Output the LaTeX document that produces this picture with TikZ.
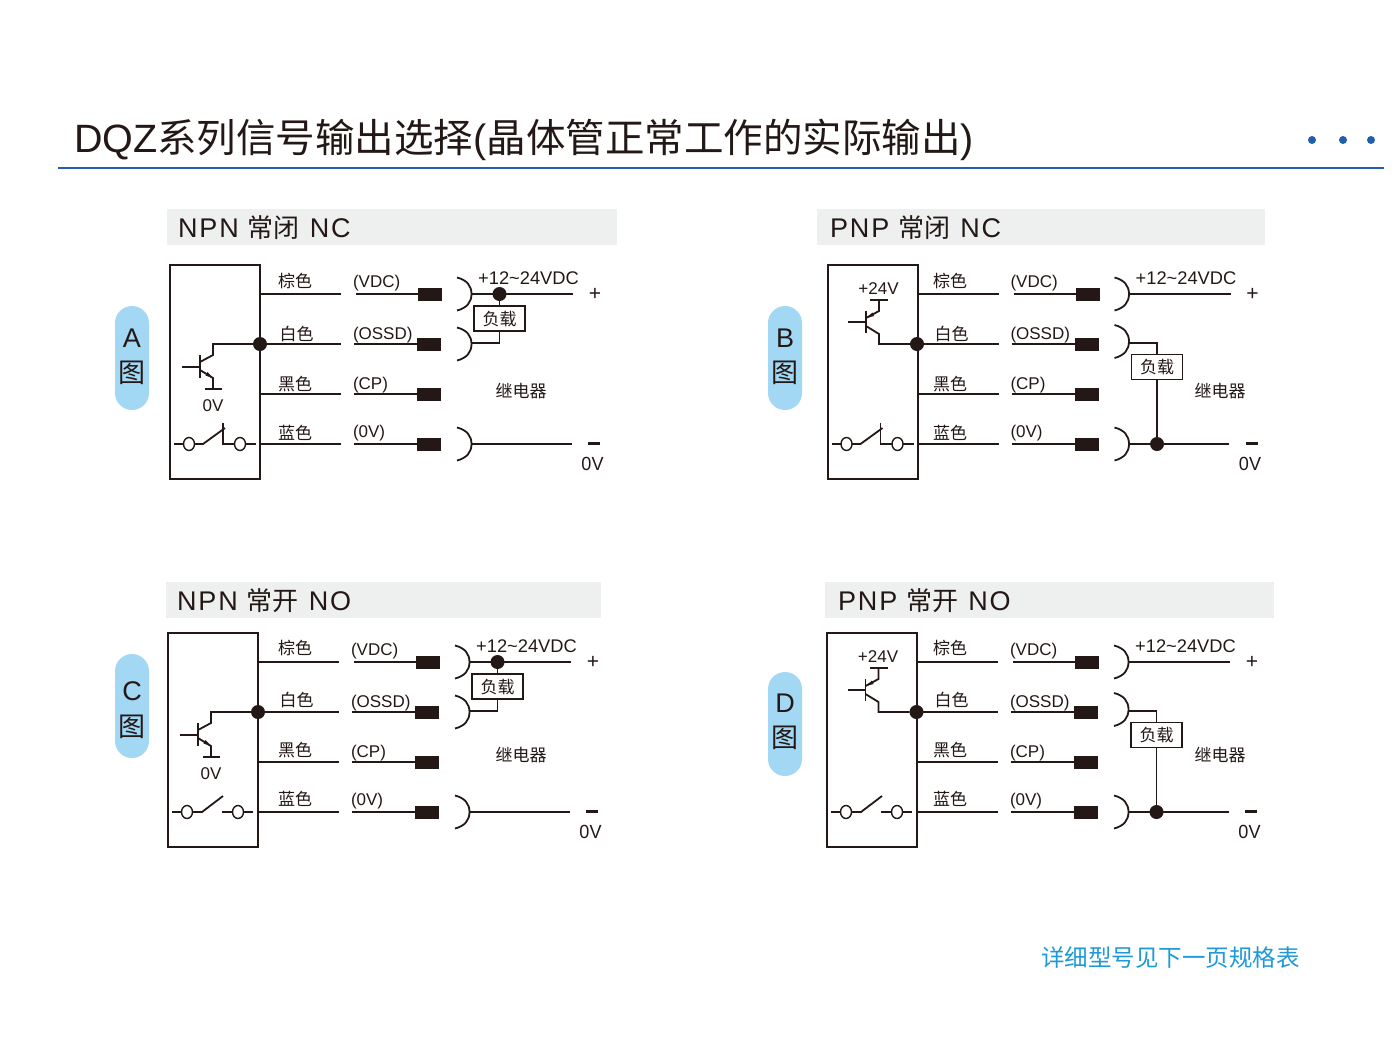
\documentclass[tikz,border=0pt]{standalone}
\usepackage{fontspec}
\setmainfont{Liberation Sans}
\newfontfamily\cjk{Noto Sans CJK SC}
\newfontfamily\latsp[LetterSpace=7]{Liberation Sans}
\usetikzlibrary{shapes.geometric}
\definecolor{ink}{HTML}{231815}
\definecolor{pill}{HTML}{A3D8F5}
\definecolor{hdr}{HTML}{EEF0EF}
\definecolor{rule}{HTML}{1F5FAE}
\definecolor{foot}{HTML}{1E9AD6}
\newcommand\fs[1]{\fontsize{#1}{#1}\selectfont}
\newcommand\loadtext{\raisebox{-6.5pt}[0pt][0pt]{负载}}
\tikzset{
  wire/.style={draw=ink,line width=1.8pt},
  txt/.style={text=ink,inner sep=0pt,outer sep=0pt,font=\fs{17}},
  cjktxt/.style={text=ink,inner sep=0pt,outer sep=0pt,font=\cjk\fs{17}},
  pin/.style={fill=ink,draw=none,minimum width=24pt,minimum height=13pt,inner sep=0pt,outer sep=0pt},
  dotn/.style={circle,fill=ink,draw=none,minimum size=14pt,inner sep=0pt,outer sep=0pt},
  loadbox/.style={draw=ink,fill=white,line width=1.2pt,minimum width=51pt,minimum height=25pt,inner sep=0pt,outer sep=0pt,text=ink,font=\cjk\fs{17}},
  bodybox/.style={draw=ink,line width=2pt,minimum width=90pt,minimum height=214pt,inner sep=0pt,outer sep=0pt},
  term/.style={ellipse,draw=ink,fill=white,line width=1.4pt,minimum width=11pt,minimum height=13pt,inner sep=0pt,outer sep=0pt},
  pilln/.style={fill=pill,draw=none,rounded corners=17pt,minimum width=34pt,minimum height=104pt,inner sep=0pt,outer sep=0pt},
  hdrn/.style={fill=hdr,draw=none,minimum height=36pt,inner sep=0pt,outer sep=0pt},
  hdrt/.style={text=ink,inner sep=0pt,outer sep=0pt,font=\fs{27},anchor=west},
  bluedot/.style={circle,fill=rule,draw=none,minimum size=8pt,inner sep=0pt,outer sep=0pt}
}
\newcommand\hdrtext[3]{{\latsp #1}\hspace{9pt}{\cjk\fs{26}#2}\hspace{10pt}{\latsp #3}}
% #1 prefix, #2 dx, #3 dy, #4 colour label dx, #5 colour label dy, #6 centre of second socket
\newcommand\panelbase[6]{%
\begin{scope}[shift={(#2,#3)}]
  \node[bodybox] (#1box) at (215,372) {};
  \foreach \n/\y/\txt/\pinx/\xs/\ty in {1/294/(VDC)/430/356/283.5,2/344/(OSSD)/429/354/335.5,3/394/(CP)/429/354/385.5,4/444/(0V)/429/354/433.5}{
    \coordinate (#1a\n) at (#1box.east |- 0,\y);
    \coordinate (#1b\n) at (341,\y);
    \coordinate (#1c\n) at (\xs,\y);
    \node[pin] (#1p\n) at (\pinx,\y) {};
    \draw[wire] (#1a\n) -- (#1b\n);
    \draw[wire] (#1c\n) -- (#1p\n.west);
    \node[txt,anchor=west] (#1t\n) at (353,\ty) {\txt};
  }
  \node[cjktxt] (#1cl1) at (295+#4,281.5+#5) {棕色};
  \node[cjktxt] (#1cl2) at (296.5+#4,333.5+#5) {白色};
  \node[cjktxt] (#1cl3) at (295+#4,384.5+#5) {黑色};
  \node[cjktxt] (#1cl4) at (295+#4,432.5+#5) {蓝色};
  \foreach \n/\y in {1/294,2/#6,4/444}{
    \coordinate (#1s\n) at (471.5,\y);
    \draw[wire] (457,\y-16.5) .. controls (467,\y-14) and (471.5,\y-8) .. (#1s\n) .. controls (471.5,\y+8) and (467,\y+14) .. (457,\y+16.5);
  }
  \coordinate (#1e1) at (573,294);
  \coordinate (#1e4) at (571.5,444);
  \draw[wire] (#1s1) -- (#1e1);
  \draw[wire] (#1s4) -- (#1e4);
  \node[txt,font=\fs{21}] (#1plus) at (595,294) {+};
  \coordinate (#1mL) at (588,443.5);
  \coordinate (#1mR) at (600,443.5);
  \draw[wire,line width=2.4pt] (#1mL) -- (#1mR);
  \node[txt,font=\fs{19}] (#1zero) at (592.5,464) {\scalebox{.95}[1]{0V}};
  \node[txt,font=\fs{18.3}] (#1volt) at (528.5,278) {+12\textasciitilde 24VDC};
\end{scope}}
\newcommand\npn[3]{%
\begin{scope}[shift={(#2,#3)}]
  \node[dotn] (#1dot) at (260,344) {};
  \coordinate (#1bs) at (182,367);
  \coordinate (#1bb) at (200,367);
  \coordinate (#1bt) at (200,355);
  \coordinate (#1bu) at (200,378);
  \coordinate (#1cc) at (213,355);
  \coordinate (#1cj) at (213,344);
  \coordinate (#1ee) at (213,378);
  \coordinate (#1eg) at (213,389);
  \coordinate (#1gl) at (205,389);
  \coordinate (#1gr) at (222,389);
  \draw[wire] (#1bs) -- (#1bb);
  \draw[wire,line width=1.9pt] (#1bt) -- (#1bu);
  \draw[wire] (200,362) -- (#1cc) -- (#1cj) -- (#1dot);
  \draw[wire] (200,370) -- (#1ee) -- (#1eg);
  \draw[wire] (#1gl) -- (#1gr);
  \fill[ink] (#1ee) -- (205.5,375.5) -- (207.5,372) -- cycle;
  \node[txt,font=\fs{17}] (#1ov) at (213,405.5) {0V};
  \node[dotn] (#1jn) at (499.5,294) {};
  \node[loadbox] (#1load) at (499.5,318.5) {\loadtext};
  \coordinate (#1k) at (499.5,343);
  \draw[wire] (#1jn) -- (#1load.north);
  \draw[wire] (#1load.south) -- (#1k) -- (#1s2 |- #1k);
\end{scope}}
\newcommand\pnp[3]{%
\begin{scope}[shift={(#2,#3)}]
  \node[dotn] (#1dot) at (917,344) {};
  \coordinate (#1bs) at (848,322);
  \coordinate (#1bb) at (866,322);
  \coordinate (#1bt) at (866,311);
  \coordinate (#1bu) at (866,333);
  \coordinate (#1ee) at (879,311);
  \coordinate (#1eg) at (879,300);
  \coordinate (#1gl) at (870,300);
  \coordinate (#1gr) at (888,300);
  \coordinate (#1cc) at (879,334);
  \coordinate (#1cj) at (879,344);
  \draw[wire] (#1bs) -- (#1bb);
  \draw[wire,line width=1.9pt] (#1bt) -- (#1bu);
  \draw[wire] (866,318) -- (#1ee) -- (#1eg);
  \draw[wire] (#1gl) -- (#1gr);
  \draw[wire] (866,326) -- (#1cc) -- (#1cj) -- (#1dot);
  \fill[ink] (866.5,318) -- (872.5,312.5) -- (874,316) -- cycle;
  \node[txt,font=\fs{17}] (#1ov) at (878.5,289) {+24V};
  \node[dotn] (#1jn) at (1157,444) {};
  \node[loadbox] (#1load) at (1157,367) {\loadtext};
  \coordinate (#1k) at (1157,343);
  \draw[wire] (#1s2 |- #1k) -- (#1k) -- (#1load.north);
  \draw[wire] (#1load.south) -- (#1jn);
\end{scope}}
\newcommand\swnc[3]{%
\begin{scope}[shift={(#2,#3)}]
  \node[term] (#1ta) at (189,444) {};
  \node[term] (#1tb) at (240,444) {};
  \coordinate (#1l) at (174,444);
  \coordinate (#1r) at (256,444);
  \coordinate (#1m) at (203,444);
  \coordinate (#1h) at (225,428);
  \coordinate (#1v) at (223,423);
  \coordinate (#1f) at (223,444);
  \draw[wire] (#1l) -- (#1ta);
  \draw[wire] (#1ta) -- (#1m) -- (#1h);
  \draw[wire] (#1v) -- (#1f) -- (#1tb);
  \draw[wire] (#1tb) -- (#1r);
\end{scope}}
\newcommand\swno[3]{%
\begin{scope}[shift={(#2,#3)}]
  \node[term] (#1ta) at (187,812) {};
  \node[term] (#1tb) at (238,812) {};
  \coordinate (#1l) at (172,812);
  \coordinate (#1r) at (253,812);
  \coordinate (#1m) at (202,812);
  \coordinate (#1h) at (223,796);
  \coordinate (#1f) at (222,812);
  \draw[wire] (#1l) -- (#1ta);
  \draw[wire] (#1ta) -- (#1m) -- (#1h);
  \draw[wire] (#1f) -- (#1tb);
  \draw[wire] (#1tb) -- (#1r);
\end{scope}}
% name, x, pill centre y, letter, letter y, glyph y
\newcommand\pillmark[6]{%
  \node[pilln] (#1) at (#2,#3) {};
  \node[txt,font=\fs{27}] (#1l) at (#2,#5) {#4};
  \node[cjktxt,font=\cjk\fs{27}] (#1g) at (#2,#6) {图};
}
\begin{document}
\begin{tikzpicture}[x=1pt,y=-1pt]
\useasboundingbox (0,0) rectangle (1400,1047);
\fill[white] (0,0) rectangle (1400,1047);
\node[txt,anchor=west,font=\fs{39.5}] (title) at (74,140) {DQZ{\cjk 系列信号输出选择}({\cjk 晶体管正常工作的实际输出})};
\coordinate (ruleL) at (58,168);
\coordinate (ruleR) at (1384,168);
\draw[draw=rule,line width=2.2pt] (ruleL) -- (ruleR);
\node[bluedot] (d1) at (1312,140) {};
\node[bluedot] (d2) at (1343,140) {};
\node[bluedot] (d3) at (1371,140) {};
\node[hdrn,minimum width=450pt] (hA) at (392,227) {};
\node[hdrn,minimum width=448pt] (hB) at (1041,227) {};
\node[hdrn,minimum width=435pt] (hC) at (383.5,600) {};
\node[hdrn,minimum width=449pt] (hD) at (1049.5,600) {};
\node[hdrt] (hAt) at (178,228) {\hdrtext{NPN}{常闭}{NC}};
\node[hdrt] (hBt) at (830,228) {\hdrtext{PNP}{常闭}{NC}};
\node[hdrt] (hCt) at (177,601) {\hdrtext{NPN}{常开}{NO}};
\node[hdrt] (hDt) at (838,601) {\hdrtext{PNP}{常开}{NO}};
\pillmark{pA}{132}{358}{A}{338}{373}
\pillmark{pB}{785}{358}{B}{338}{373}
\pillmark{pC}{132}{706}{C}{691}{727}
\pillmark{pD}{785}{724}{D}{703}{738}
\panelbase{A}{0}{0}{0}{0}{344}
\panelbase{B}{657.5}{0}{-2.5}{0}{341.5}
\panelbase{C}{-2}{368}{2}{-2}{344}
\panelbase{D}{657}{368}{-2}{-2}{341.5}
\npn{A}{0}{0}
\npn{C}{-2}{368}
\pnp{B}{0}{0}
\pnp{D}{-0.5}{368}
\swnc{sA}{0}{0}
\swnc{sB}{657.5}{0}
\swno{sC}{0}{0}
\swno{sD}{659}{0}
\node[cjktxt] (relA) at (521,391) {继电器};
\node[cjktxt] (relB) at (1220,391) {继电器};
\node[cjktxt] (relC) at (521,755) {继电器};
\node[cjktxt] (relD) at (1220,755) {继电器};
\node[cjktxt,anchor=west,font=\cjk\fs{23.5},text=foot] (foot) at (1041,958) {详细型号见下一页规格表};
\end{tikzpicture}
\end{document}
